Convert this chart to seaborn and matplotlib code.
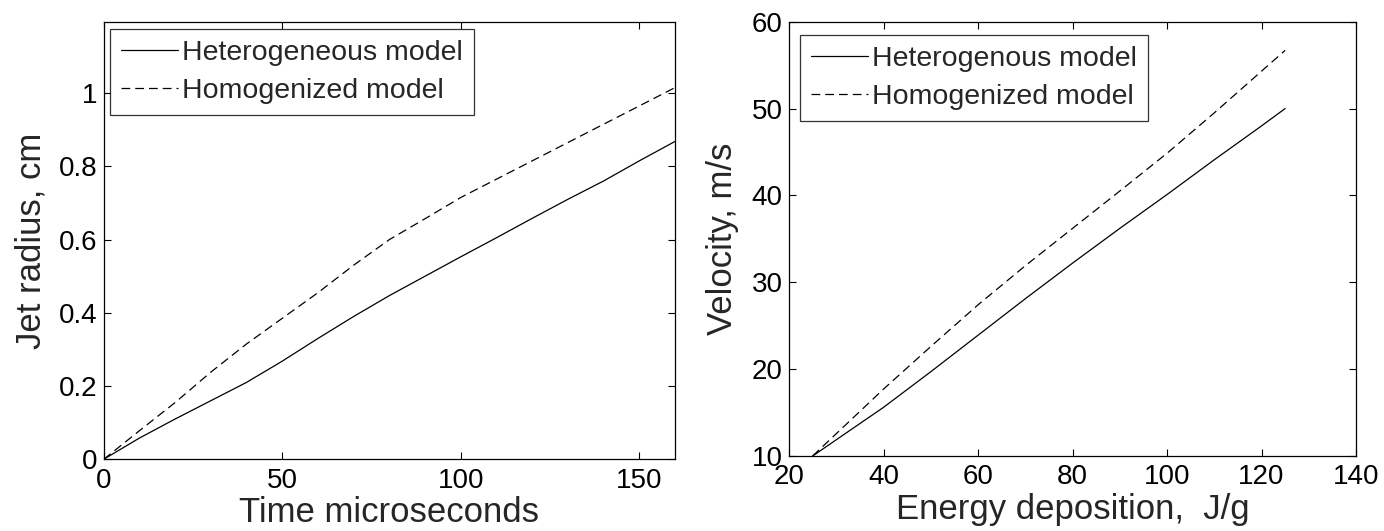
import matplotlib
matplotlib.use("Agg")
import matplotlib.pyplot as plt
import seaborn as sns
import pandas as pd
from matplotlib.ticker import FuncFormatter

# Left panel data: jet radius (cm) vs time (microseconds)
time_us = [0, 10, 20, 30, 40, 50, 60, 70, 80, 90, 100, 110, 120, 130, 140, 150, 160]
radius_hetero = [0, 0.058, 0.11, 0.16, 0.21, 0.268, 0.33, 0.39, 0.447, 0.5, 0.553,
                 0.605, 0.658, 0.71, 0.76, 0.815, 0.868]
radius_homog = [0, 0.078, 0.155, 0.238, 0.315, 0.385, 0.455, 0.53, 0.6, 0.657, 0.715,
                0.765, 0.815, 0.865, 0.915, 0.965, 1.015]

# Right panel data: velocity (m/s) vs energy deposition (J/g)
energy = [25, 40, 50, 60, 70, 80, 90, 100, 110, 120, 125]
vel_hetero = [10, 15.6, 19.7, 23.9, 28.1, 32.2, 36.2, 40.1, 44.1, 48.0, 50.0]
vel_homog = [10, 17.7, 22.6, 27.4, 31.9, 36.2, 40.5, 44.85, 49.5, 54.3, 56.7]

left_labels = ["Heterogeneous model", "Homogenized model"]
right_labels = ["Heterogenous model", "Homogenized model"]

sns.set_style("ticks")
plt.rcParams["font.family"] = ["Liberation Sans", "DejaVu Sans"]

DASH = (0, (7, 4))
LW = 0.9

fig = plt.figure(figsize=(13.84, 5.31), dpi=100)
W, H = 1384, 531
axL = fig.add_axes([103.7 / W, 1 - 459.3 / H, (675 - 103.7) / W, (459.3 - 21.7) / H])
axR = fig.add_axes([789 / W, 1 - 456 / H, (1356 - 789) / W, (456 - 21.7) / H])


def g_fmt(v, pos):
    return "%g" % round(v, 6)


def style_ax(ax):
    for s in ax.spines.values():
        s.set_visible(True)
        s.set_color("black")
        s.set_linewidth(0.9)
    ax.tick_params(direction="in", length=5, width=0.8, top=True, right=True,
                   labelsize=20, colors="black")
    ax.tick_params(axis="x", pad=6)
    ax.tick_params(axis="y", pad=4.5)
    ax.set_facecolor("white")


def draw(ax, x, y1, y2, labels, anchor):
    df1 = pd.DataFrame({"x": x, "y": y1})
    df2 = pd.DataFrame({"x": x, "y": y2})
    sns.lineplot(data=df1, x="x", y="y", ax=ax, color="black", lw=LW,
                 label=labels[0], estimator=None, sort=False)
    sns.lineplot(data=df2, x="x", y="y", ax=ax, color="black", lw=LW,
                 label=labels[1], estimator=None, sort=False)
    ax.lines[1].set_linestyle(DASH)
    leg = ax.legend(loc="upper left", bbox_to_anchor=anchor, fontsize=20.5,
                    frameon=True, fancybox=False, edgecolor="black",
                    handlelength=2.0, handletextpad=0.15, borderpad=0.38,
                    labelspacing=0.42, borderaxespad=0)
    leg.get_frame().set_linewidth(0.9)
    for h in leg.get_lines():
        h.set_linewidth(LW)
    leg.get_lines()[1].set_linestyle(DASH)


draw(axL, time_us, radius_hetero, radius_homog, left_labels, (0.011, 0.983))
axL.set_xlim(0, 160)
axL.set_ylim(0, 1.195)
axL.set_xticks([0, 50, 100, 150])
axL.set_yticks([0, 0.2, 0.4, 0.6, 0.8, 1.0])
axL.yaxis.set_major_formatter(FuncFormatter(g_fmt))
axL.set_xlabel("Time microseconds", fontsize=25, labelpad=2)
axL.set_ylabel("Jet radius, cm", fontsize=25, labelpad=8)
style_ax(axL)

draw(axR, energy, vel_hetero, vel_homog, right_labels, (0.0194, 0.969))
axR.set_xlim(20, 140)
axR.set_ylim(10, 60)
axR.set_xticks([20, 40, 60, 80, 100, 120, 140])
axR.set_yticks([10, 20, 30, 40, 50, 60])
axR.set_xlabel("Energy deposition,  J/g", fontsize=25, labelpad=2)
axR.set_ylabel("Velocity, m/s", fontsize=25, labelpad=9)
style_ax(axR)

fig.savefig("out.png", dpi=100, facecolor="white")
